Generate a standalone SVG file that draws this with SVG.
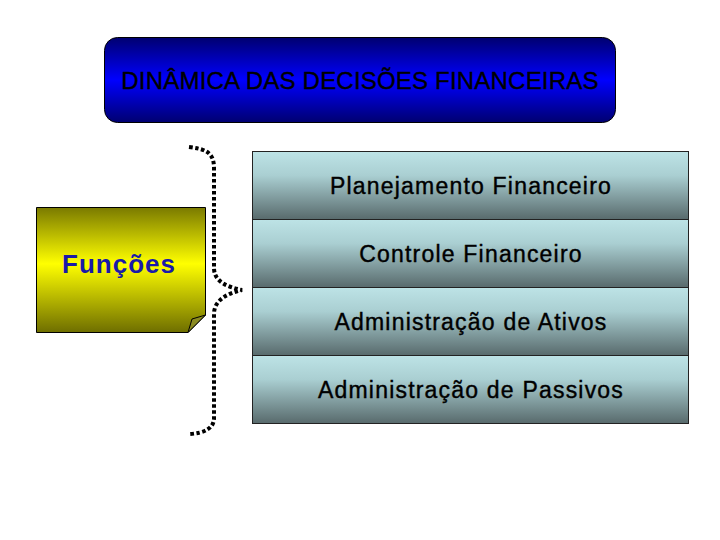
<svg xmlns="http://www.w3.org/2000/svg" width="720" height="540" viewBox="0 0 720 540">
<defs>
<linearGradient id="gBlue" x1="0" y1="0" x2="0" y2="1">
<stop offset="0" stop-color="#000070"/>
<stop offset="0.5" stop-color="#0000ff"/>
<stop offset="1" stop-color="#000070"/>
</linearGradient>
<linearGradient id="gYel" x1="0" y1="0" x2="0" y2="1">
<stop offset="0" stop-color="#7a7a00"/>
<stop offset="0.45" stop-color="#ffff00"/>
<stop offset="1" stop-color="#6e6e00"/>
</linearGradient>
<linearGradient id="gRow" x1="0" y1="0" x2="0" y2="1">
<stop offset="0" stop-color="#bde3e6"/>
<stop offset="0.35" stop-color="#aacfd2"/>
<stop offset="1" stop-color="#586a6c"/>
</linearGradient>
<style>
.row{fill:url(#gRow);stroke:#222;stroke-width:1}
.rt{font-family:"Liberation Sans",Arial,sans-serif;font-size:23px;letter-spacing:1.2px;fill:#000;stroke:#000;stroke-width:0.4px;text-anchor:middle}
.brace{fill:none;stroke:#000;stroke-width:4;stroke-dasharray:3.5 2.5}
</style>
</defs>
<g id="title">
<rect x="104.5" y="37.5" width="511" height="85" rx="13" fill="url(#gBlue)" stroke="#000" stroke-width="1"/>
<text x="360" y="89" font-family="Liberation Sans,Arial,sans-serif" font-size="24" letter-spacing="0.2" fill="#000" stroke="#000" stroke-width="0.4" text-anchor="middle">DINÂMICA DAS DECISÕES FINANCEIRAS</text>
</g>
<g id="funcoes">
<path d="M36.5 207.5 H205.5 V315 L188 332.5 H36.5 Z" fill="url(#gYel)" stroke="#000" stroke-width="1"/>
<path d="M205.5 315 L188 332.5 L192 319 Z" fill="#8a8a20" stroke="#000" stroke-width="1"/>
<text x="119" y="273" font-family="Liberation Sans,Arial,sans-serif" font-size="26" font-weight="bold" letter-spacing="1" fill="#1a1aa8" text-anchor="middle">Funções</text>
</g>
<g id="connectors">
<path class="brace" d="M189 147 C205 149 214 152 214 168 V268 C214 282 228 287 242 290 C228 293 214 300 214 314 V418 C214 428 205 433 190 434"/>
</g>
<g id="planejamento">
<rect class="row" x="252.5" y="151.5" width="436" height="68"/>
<text class="rt" x="471" y="194">Planejamento Financeiro</text>
</g>
<g id="controle">
<rect class="row" x="252.5" y="219.5" width="436" height="68"/>
<text class="rt" x="471" y="262">Controle Financeiro</text>
</g>
<g id="ativos">
<rect class="row" x="252.5" y="287.5" width="436" height="68"/>
<text class="rt" x="471" y="330">Administração de Ativos</text>
</g>
<g id="passivos">
<rect class="row" x="252.5" y="355.5" width="436" height="68"/>
<text class="rt" x="471" y="398">Administração de Passivos</text>
</g>
</svg>
